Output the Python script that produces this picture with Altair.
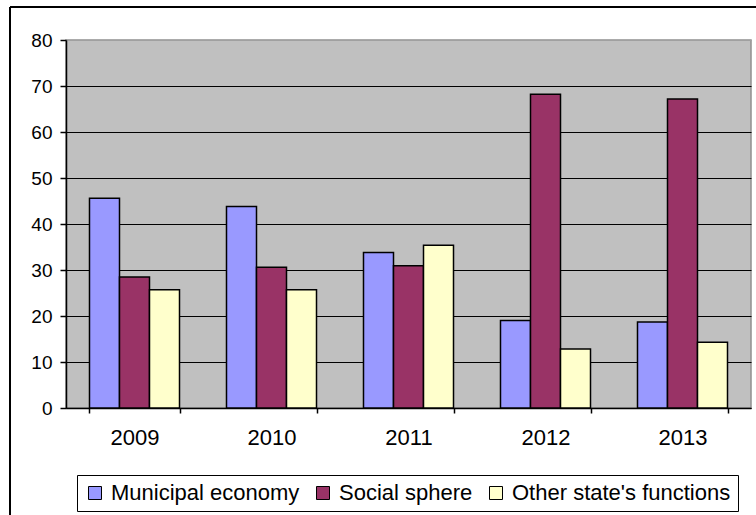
import altair as alt
import pandas as pd

years = ["2009", "2010", "2011", "2012", "2013"]
series = ["Municipal economy", "Social sphere", "Other state's functions"]
municipal = [45.6, 43.8, 33.8, 19.0, 18.7]
social = [28.5, 30.6, 30.9, 68.2, 67.2]
other = [25.7, 25.7, 35.4, 12.8, 14.3]
colors = ["#9999FF", "#993366", "#FFFFCC"]
y_ticks = [0, 10, 20, 30, 40, 50, 60, 70, 80]

rows = []
for name, vals in zip(series, [municipal, social, other]):
    for yr, v in zip(years, vals):
        rows.append({"year": yr, "series": name, "value": v})
df = pd.DataFrame(rows)

FONT = "Arial, Liberation Sans"

bars = alt.Chart(df).mark_bar(stroke="black", strokeWidth=1.5).encode(
    x=alt.X(
        "year:N",
        sort=years,
        scale=alt.Scale(paddingInner=0.343, paddingOuter=0.1715),
        axis=alt.Axis(
            title=None,
            labelAngle=0,
            labelFontSize=22,
            labelFont=FONT,
            labelColor="black",
            tickSize=5,
            tickColor="black",
            tickWidth=1.5,
            domainColor="black",
            domainWidth=1.5,
            labelPadding=14,
            tickBand="extent",
            grid=False,
        ),
    ),
    xOffset=alt.XOffset("series:N", sort=series, scale=alt.Scale(paddingInner=0, paddingOuter=0)),
    y=alt.Y(
        "value:Q",
        scale=alt.Scale(domain=[0, 80], nice=False),
        axis=alt.Axis(
            title=None,
            values=y_ticks,
            labelFontSize=19,
            labelFont=FONT,
            labelColor="black",
            tickSize=6,
            tickColor="black",
            tickWidth=1.5,
            domainColor="black",
            domainWidth=1.5,
            labelPadding=8,
            grid=True,
            gridColor=alt.condition("datum.value == 80", alt.value("#A0A0A0"), alt.value("black")),
            gridWidth=1.2,
        ),
    ),
    color=alt.Color(
        "series:N",
        sort=series,
        scale=alt.Scale(domain=series, range=colors),
        legend=alt.Legend(
            title=None,
            orient="none",
            legendX=11,
            legendY=435,
            direction="horizontal",
            fillColor="white",
            strokeColor="black",
            padding=7,
            labelFontSize=22,
            labelFont=FONT,
            labelColor="black",
            labelLimit=400,
            symbolType="square",
            symbolSize=169,
            symbolStrokeColor="black",
            symbolStrokeWidth=1,
            labelOffset=5,
            columnPadding=12,
        ),
    ),
)

frame_df = pd.DataFrame({"k": [0]})
left_border = alt.Chart(frame_df).mark_rule(color="black", strokeWidth=2).encode(
    x=alt.value(-56), y=alt.value(-33), y2=alt.value(480)
)
top_border = alt.Chart(frame_df).mark_rule(color="black", strokeWidth=2).encode(
    x=alt.value(-56), x2=alt.value(700), y=alt.value(-33)
)

chart = (
    alt.layer(bars, left_border, top_border)
    .properties(
        width=685,
        height=368,
        autosize="none",
        padding={"left": 66, "top": 40, "right": 5, "bottom": 107},
        background="white",
    )
    .configure_view(fill="#C0C0C0", stroke="#909090", strokeWidth=1.5)
)

chart.save("out.html", embed_options={"renderer": "svg", "actions": False})
